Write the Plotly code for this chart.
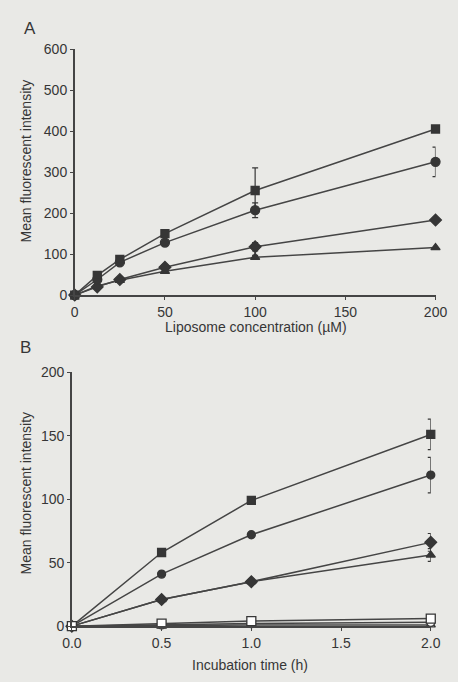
import plotly.graph_objects as go

W, H = 458, 682

# ---------- Panel A data ----------
conc = [0, 12.5, 25, 50, 100, 200]
a_square = [0, 48, 87, 150, 255, 405]
a_square_err = [0, 0, 0, 0, 55, 0]
a_circle = [0, 38, 80, 128, 207, 325]
a_circle_err = [0, 0, 0, 0, 18, 36]
a_diamond = [0, 20, 38, 68, 118, 183]
a_diamond_err = [0, 0, 0, 0, 10, 0]
a_triangle = [0, 22, 36, 58, 92, 116]
a_triangle_err = [0, 0, 0, 0, 5, 0]

# ---------- Panel B data ----------
time_h = [0.0, 0.5, 1.0, 2.0]
b_square = [0, 58, 99, 151]
b_square_err = [0, 0, 0, 12]
b_circle = [0, 41, 72, 119]
b_circle_err = [0, 0, 0, 14]
b_diamond = [0, 21, 35, 66]
b_diamond_err = [0, 0, 0, 7]
b_triangle = [0, 21, 35, 56]
b_triangle_err = [0, 0, 0, 5]
b_open_square = [0, 2, 4, 6]
b_open_circle = [0, 1, 2, 3]
b_open_triangle = [0, 0.5, 1, 1]

xa_ticks = [0, 50, 100, 150, 200]
ya_ticks = [0, 100, 200, 300, 400, 500, 600]
xb_ticks = [0.0, 0.5, 1.0, 1.5, 2.0]
yb_ticks = [0, 50, 100, 150, 200]

BG = "#e9e9e6"
INK = "#363636"
LINE = "#454545"
FONT = "Liberation Sans, Arial, sans-serif"

fig = go.Figure()


def add(x, y, err, symbol, xa, ya, size=8, fill=INK):
    fig.add_trace(go.Scatter(
        x=x, y=y, mode="lines+markers", xaxis=xa, yaxis=ya,
        line=dict(color=LINE, width=1.5),
        marker=dict(symbol=symbol, size=size, color=fill,
                    line=dict(color=INK, width=1.3)),
        error_y=dict(type="data", array=err, visible=True,
                     color=INK, thickness=1.2, width=3) if err is not None else None,
        cliponaxis=False, showlegend=False))


# Panel A
add(conc, a_triangle, a_triangle_err, "triangle-up", "x", "y", 8)
add(conc, a_diamond, a_diamond_err, "diamond", "x", "y", 9)
add(conc, a_circle, a_circle_err, "circle", "x", "y", 9)
add(conc, a_square, a_square_err, "square", "x", "y", 8)

# Panel B
add(time_h, b_triangle, b_triangle_err, "triangle-up", "x2", "y2", 8)
add(time_h, b_diamond, b_diamond_err, "diamond", "x2", "y2", 9)
add(time_h, b_circle, b_circle_err, "circle", "x2", "y2", 8)
add(time_h, b_square, b_square_err, "square", "x2", "y2", 8)
add(time_h, b_open_triangle, None, "triangle-up", "x2", "y2", 8, "white")
add(time_h, b_open_circle, None, "circle", "x2", "y2", 8, "white")
add(time_h, b_open_square, None, "square", "x2", "y2", 9, "white")


def px_x(p):
    return p / W


def px_y(p):
    return 1 - p / H


axis_common = dict(showgrid=False, zeroline=False, showline=True,
                   linecolor=LINE, linewidth=1.5, ticks="outside",
                   ticklen=3, tickwidth=1.2, tickcolor=LINE,
                   tickfont=dict(family=FONT, size=14, color=INK))

fig.update_layout(
    width=W, height=H,
    margin=dict(l=0, r=0, t=0, b=0),
    paper_bgcolor=BG, plot_bgcolor=BG,
    xaxis=dict(domain=[px_x(68), px_x(447)], range=[0, 200],
               tickvals=xa_ticks, anchor="y", **axis_common),
    yaxis=dict(domain=[px_y(294), px_y(42)], range=[0, 600],
               tickvals=ya_ticks, anchor="x", **axis_common),
    xaxis2=dict(domain=[px_x(65), px_x(442)], range=[0, 2.0],
                tickvals=xb_ticks, tickformat=".1f", anchor="y2", **axis_common),
    yaxis2=dict(domain=[px_y(633), px_y(373)], range=[0, 200],
                tickvals=yb_ticks, anchor="x2", **axis_common),
)

ann = [
    dict(text="A", x=px_x(21), y=px_y(21), size=17),
    dict(text="B", x=px_x(16), y=px_y(348), size=17),
    dict(text="Liposome concentration (µM)", x=px_x(258), y=px_y(327), size=14),
    dict(text="Incubation time (h)", x=px_x(252), y=px_y(673), size=14),
]
for a in ann:
    fig.add_annotation(text=a["text"], x=a["x"], y=a["y"], xref="paper", yref="paper",
                       showarrow=False, xanchor="center", yanchor="middle",
                       font=dict(family=FONT, size=a["size"], color=INK))
for txt, yc in [("Mean fluorescent intensity", 157), ("Mean fluorescent intensity", 497)]:
    fig.add_annotation(text=txt, x=px_x(17), y=px_y(yc), xref="paper", yref="paper",
                       showarrow=False, textangle=-90, xanchor="center", yanchor="middle",
                       font=dict(family=FONT, size=14, color=INK))

fig.write_html("out.html")
